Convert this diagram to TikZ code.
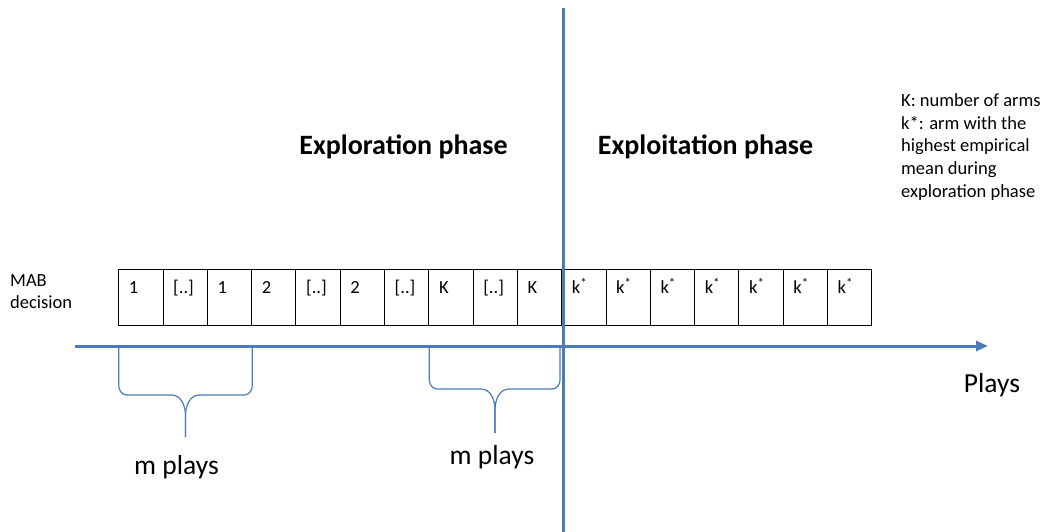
\documentclass[tikz,border=0pt]{standalone}
\usepackage{fontspec}
\setmainfont{Carlito}
\usetikzlibrary{shapes, arrows.meta, positioning}
\definecolor{axisblue}{RGB}{74,126,187}
\tikzstyle{cell} = [rectangle, draw, line width=1pt, outer sep=0pt, inner sep=0pt, minimum width=44.3pt, minimum height=56.5pt]
\tikzstyle{tag} = [inner sep=0pt, anchor=north west, xshift=10pt, yshift=-11pt, text height=13pt, text depth=4pt, font=\fontsize{18.5}{22}\selectfont]
\tikzstyle{line} = [draw, axisblue, line width=3pt]
\tikzstyle{brace} = [draw, axisblue, line width=1.2pt]
\tikzstyle{phase} = [font=\fontsize{28}{32}\selectfont\bfseries]
\tikzstyle{note} = [inner sep=0pt, anchor=north west, align=left, font=\fontsize{18.5}{22.7}\selectfont]
\tikzstyle{plays} = [font=\fontsize{27.5}{32}\selectfont]

\begin{document}
\begin{tikzpicture}[x=1pt, y=-1pt]
			\useasboundingbox (0,0) rectangle (1047,532);
			\node [cell, anchor=north west, label={[tag]north west:{1}}] (c1) at (118.7,269.3) {};
			\node [cell, right=0pt of c1, label={[tag]north west:{[..]}}] (c2) {};
			\node [cell, right=0pt of c2, label={[tag]north west:{1}}] (c3) {};
			\node [cell, right=0pt of c3, label={[tag]north west:{2}}] (c4) {};
			\node [cell, right=0pt of c4, label={[tag]north west:{[..]}}] (c5) {};
			\node [cell, right=0pt of c5, label={[tag]north west:{2}}] (c6) {};
			\node [cell, right=0pt of c6, label={[tag]north west:{[..]}}] (c7) {};
			\node [cell, right=0pt of c7, label={[tag]north west:{K}}] (c8) {};
			\node [cell, right=0pt of c8, label={[tag]north west:{[..]}}] (c9) {};
			\node [cell, right=0pt of c9, label={[tag]north west:{K}}] (c10) {};
			\node [cell, right=0pt of c10, label={[tag]north west:{k\textsuperscript{*}}}] (k1) {};
			\node [cell, right=0pt of k1, label={[tag]north west:{k\textsuperscript{*}}}] (k2) {};
			\node [cell, right=0pt of k2, label={[tag]north west:{k\textsuperscript{*}}}] (k3) {};
			\node [cell, right=0pt of k3, label={[tag]north west:{k\textsuperscript{*}}}] (k4) {};
			\node [cell, right=0pt of k4, label={[tag]north west:{k\textsuperscript{*}}}] (k5) {};
			\node [cell, right=0pt of k5, label={[tag]north west:{k\textsuperscript{*}}}] (k6) {};
			\node [cell, right=0pt of k6, label={[tag]north west:{k\textsuperscript{*}}}] (k7) {};

			\node [note] (mab) at (10,274) {MAB\\decision};
			\node [phase] (explo) at (403.5,147) {Exploration phase};
			\node [phase] (exploit) at (705.5,147) {Exploitation phase};
			\node [note] (legend) at (901,93.5) {K: number of arms\\k*: arm with the\\highest empirical\\mean during\\exploration phase};
			\node [plays] (plays) at (992,385) {Plays};
			\node [plays] (m1) at (176.5,467) {m plays};
			\node [plays] (m2) at (492,457) {m plays};

			\coordinate (axL) at (75,346);
			\coordinate (axR) at (988,346);
			\coordinate (divT) at (563.3,8);
			\coordinate (divB) at (563.3,532);
			\coordinate (b1L) at (118.7,348);
			\coordinate (b1R) at (252.3,348);
			\coordinate (b1M) at (185.5,416);
			\coordinate (b1T) at (185.5,437);
			\coordinate (b2L) at (429.3,348);
			\coordinate (b2R) at (560,348);
			\coordinate (b2M) at (495,410);
			\coordinate (b2T) at (495,433);

			\path [brace] (b1L) -- ++(0,37) to[out=-90,in=180] ++(8,10) -- ++(44.8,0) to[out=0,in=90] (b1M) -- (b1T);
			\path [brace] (b1T) -- (b1M) to[out=90,in=180] ++(14,-21) -- ++(44.8,0) to[out=0,in=-90] ++(8,-10) -- (b1R);
			\path [brace] (b2L) -- ++(0,32) to[out=-90,in=180] ++(8,9) -- ++(43.7,0) to[out=0,in=90] (b2M) -- (b2T);
			\path [brace] (b2T) -- (b2M) to[out=90,in=180] ++(14,-21) -- ++(43,0) to[out=0,in=-90] ++(8,-9) -- (b2R);
			\path [line, -{Triangle[length=12pt, width=10pt]}] (axL) -- (axR);
			\path [line] (divT) -- (divB);
		\end{tikzpicture}
\end{document}
